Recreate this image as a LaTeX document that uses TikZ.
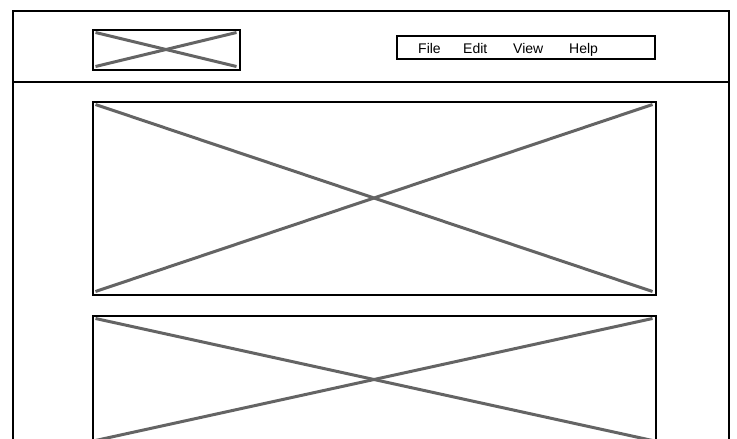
\documentclass[tikz,border=0pt]{standalone}
\usepackage{fontspec}
\setmainfont{Liberation Sans}
\begin{document}
\begin{tikzpicture}[x=1pt,y=-1pt,
  frame/.style={draw=black,line width=2pt,inner sep=0pt,outer sep=0pt,anchor=north west},
  xline/.style={draw={rgb,255:red,100;green,100;blue,100},line width=3pt},
  menuitem/.style={anchor=base west,inner sep=0pt,font=\fontsize{14}{16}\selectfont}]
\useasboundingbox (0,0) rectangle (737,439);
\clip (0,0) rectangle (737,439);
% outer window
\coordinate (wtl) at (12.5,10.5);
\coordinate (wtr) at (728.5,10.5);
\coordinate (wbl) at (12.5,445);
\coordinate (wbr) at (728.5,445);
\draw[line width=2pt] (wbl) -- (wtl) -- (wtr) -- (wbr);
\coordinate (hl) at (12.5,81.5);
\coordinate (hr) at (728.5,81.5);
\draw[line width=2pt] (hl) -- (hr);
% logo
\node[frame,minimum width=147pt,minimum height=40pt] (logo) at (92.5,29.5) {};
\draw[xline] ([shift={(3,3)}]logo.north west) -- ([shift={(-3,-3)}]logo.south east);
\draw[xline] ([shift={(3,-3)}]logo.south west) -- ([shift={(-3,3)}]logo.north east);
% menu
\node[frame,minimum width=258pt,minimum height=23pt] (menu) at (397,35.5) {};
\node[menuitem] (file) at (418,53) {File};
\node[menuitem] (edit) at (463,53) {Edit};
\node[menuitem] (view) at (513,53) {View};
\node[menuitem] (help) at (569,53) {Help};
% image 1
\node[frame,minimum width=563pt,minimum height=193pt] (img1) at (92.5,101.5) {};
\draw[xline] ([shift={(3,3)}]img1.north west) -- ([shift={(-3,-3)}]img1.south east);
\draw[xline] ([shift={(3,-3)}]img1.south west) -- ([shift={(-3,3)}]img1.north east);
% image 2
\node[frame,minimum width=563pt,minimum height=128pt] (img2) at (92.5,315.5) {};
\draw[xline] ([shift={(3,3)}]img2.north west) -- ([shift={(-3,-3)}]img2.south east);
\draw[xline] ([shift={(3,-3)}]img2.south west) -- ([shift={(-3,3)}]img2.north east);
\end{tikzpicture}
\end{document}
